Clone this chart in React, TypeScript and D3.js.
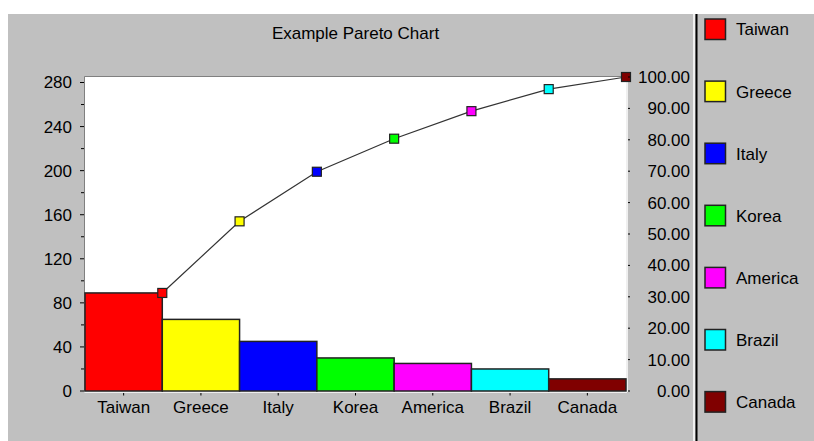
import React from "react";
import * as d3 from "d3";

const categories = ["Taiwan", "Greece", "Italy", "Korea", "America", "Brazil", "Canada"];
const values = [89, 65, 45, 30, 25, 20, 11];
const colors = ["#ff0000", "#ffff00", "#0000ff", "#00ff00", "#ff00ff", "#00ffff", "#800000"];
const leftTickValues = [0, 40, 80, 120, 160, 200, 240, 280];
const leftMinorTicks = [20, 60, 100, 140, 180, 220, 260];
const rightTickValues = [0, 10, 20, 30, 40, 50, 60, 70, 80, 90, 100];
const title = "Example Pareto Chart";

const W = 814;
const H = 441;
const FONT = "'Liberation Sans', Arial, sans-serif";
const FS = 17;

export default function App() {
  const pl = 85, pr = 626, pt = 77, pb = 391;
  const total = d3.sum(values);
  const x = d3.scaleBand<string>().domain(categories).range([pl, pr]).padding(0);
  const yL = d3.scaleLinear().domain([0, total]).range([pb, pt]);
  const yR = d3.scaleLinear().domain([0, 100]).range([pb, pt]);
  const cum = d3.cumsum(values);
  const pts = categories.map((c, i) => ({
    c,
    x: (x(c) as number) + x.bandwidth(),
    y: yR((cum[i] / total) * 100),
    color: colors[i],
  }));
  const line = d3.line<{ x: number; y: number }>().x((d) => d.x).y((d) => d.y);

  return (
    <svg
      width={W}
      height={H}
      style={{ position: "absolute", left: 0, top: 0, display: "block" }}
      fontFamily={FONT}
    >
      <rect x={0} y={0} width={W} height={H} fill="#ffffff" />
      <rect x={8} y={14} width={W - 8} height={H - 14} fill="#c0c0c0" />
      {/* title */}
      <text x={(pl + pr) / 2} y={39} textAnchor="middle" fontSize={FS} fill="#000">
        {title}
      </text>
      {/* plot area */}
      <rect x={pl} y={pt} width={pr - pl} height={pb - pt} fill="#ffffff" />
      <line x1={pl - 0.5} y1={pt - 0.5} x2={pr + 0.5} y2={pt - 0.5} stroke="#808080" />
      <line x1={pl - 0.5} y1={pt - 0.5} x2={pl - 0.5} y2={pb + 0.5} stroke="#808080" />
      <line x1={pl - 0.5} y1={pb + 1} x2={pr + 1} y2={pb + 1} stroke="#ffffff" strokeWidth={1.5} />
      <line x1={pr + 1} y1={pt - 0.5} x2={pr + 1} y2={pb + 1} stroke="#ffffff" strokeWidth={1.5} />
      {/* bars */}
      {categories.map((c, i) => (
        <rect
          key={c}
          x={x(c) as number}
          y={yL(values[i])}
          width={x.bandwidth()}
          height={pb - yL(values[i])}
          fill={colors[i]}
          stroke="#222"
          strokeWidth={1.5}
        />
      ))}
      {/* cumulative line */}
      <path d={line(pts) || ""} fill="none" stroke="#333" strokeWidth={1.2} />
      {pts.map((p) => (
        <rect
          key={p.c}
          x={p.x - 4.5}
          y={p.y - 4.5}
          width={9}
          height={9}
          fill={p.color}
          stroke="#222"
          strokeWidth={1.2}
        />
      ))}
      {/* left axis */}
      {leftTickValues.map((v) => (
        <g key={v}>
          <line x1={80} x2={84} y1={yL(v)} y2={yL(v)} stroke="#000" />
          <text x={72} y={yL(v)} dy="0.35em" textAnchor="end" fontSize={FS} fill="#000">
            {v}
          </text>
        </g>
      ))}
      {leftMinorTicks.map((v) => (
        <line key={v} x1={81} x2={84} y1={yL(v)} y2={yL(v)} stroke="#000" />
      ))}
      {/* right axis */}
      {rightTickValues.map((v) => (
        <g key={v}>
          <line x1={628} x2={630} y1={yR(v)} y2={yR(v)} stroke="#000" />
          <text x={690} y={yR(v)} dy="0.35em" textAnchor="end" fontSize={FS} fill="#000">
            {v.toFixed(2)}
          </text>
        </g>
      ))}
      {/* x axis */}
      {categories.map((c) => {
        const cx = (x(c) as number) + x.bandwidth() / 2;
        return (
          <g key={c}>
            <line x1={cx} x2={cx} y1={393} y2={395.5} stroke="#000" />
            <text x={cx} y={413} textAnchor="middle" fontSize={FS} fill="#000">
              {c}
            </text>
          </g>
        );
      })}
      {/* legend separator */}
      <line x1={694} x2={694} y1={14} y2={H} stroke="#ffffff" strokeWidth={1.5} />
      <line x1={696.5} x2={696.5} y1={14} y2={H} stroke="#000" strokeWidth={2} />
      {/* legend */}
      {categories.map((c, i) => {
        const y0 = 19 + i * 62.1;
        return (
          <g key={c}>
            <rect x={705} y={y0} width={20.5} height={20.5} fill={colors[i]} stroke="#222" strokeWidth={1.5} />
            <text x={736} y={y0 + 10.5} dy="0.35em" fontSize={FS} fill="#000">
              {c}
            </text>
          </g>
        );
      })}
    </svg>
  );
}
